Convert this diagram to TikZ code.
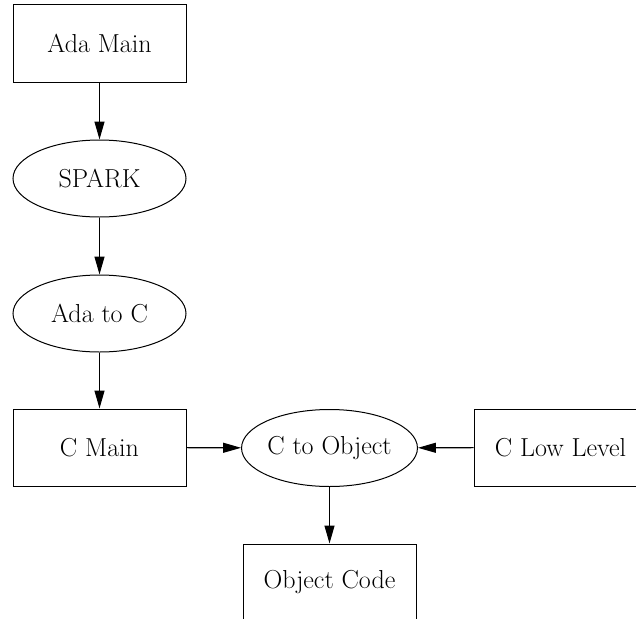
\documentclass[tikz,border=0pt]{standalone}
\usetikzlibrary{shapes.geometric,arrows.meta}
\begin{document}
\begin{tikzpicture}[x=1pt,y=-1pt,
  every node/.style={font=\fontsize{26}{30}\selectfont, line width=1pt},
  boxnode/.style={draw, rectangle, minimum width=173pt, minimum height=77pt, inner sep=0pt},
  ellnode/.style={draw, ellipse, minimum width=173pt, minimum height=77pt, inner sep=0pt},
  flow/.style={line width=1.1pt, -{Triangle[length=18pt,width=10pt]}}]
\useasboundingbox (0,0) rectangle (636,618);
\clip (0,0) rectangle (636,618);
\node[boxnode] (adamain) at (99.5,43.5) {Ada Main};
\node[ellnode] (spark) at (99.5,178.5) {SPARK};
\node[ellnode] (adatoc) at (99.5,313.5) {Ada to C};
\node[boxnode] (cmain) at (99.5,447.5) {C Main};
\node[ellnode] (ctoobj) at (329.5,448) {C to Object};
\node[boxnode] (clow) at (560.5,447.5) {C Low Level};
\node[boxnode] (objcode) at (329.5,582.5) {Object Code};
\draw[flow] (adamain) -- (spark);
\draw[flow] (spark) -- (adatoc);
\draw[flow] (adatoc) -- (cmain);
\draw[flow] (cmain) -- (ctoobj);
\draw[flow] (clow) -- (ctoobj);
\draw[flow] (ctoobj) -- (objcode);
\end{tikzpicture}
\end{document}
